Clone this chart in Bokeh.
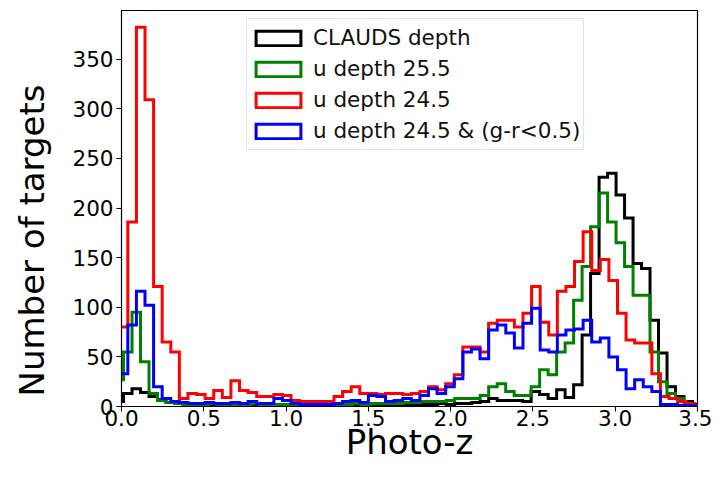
import math
import numpy as np
from bokeh.plotting import figure
from bokeh.models import FixedTicker, Range1d, Legend, LegendItem, ColumnDataSource, Label
from bokeh.embed import file_html
from bokeh.resources import INLINE

# ---- data ----
# red / blue histograms share one set of bins
RB_START = -0.0138
RB_WIDTH = 0.0522
red_counts = [80, 186, 382, 309, 121, 65, 55, 8, 13, 12, 8, 16, 9, 26, 16, 14, 10, 10, 12, 11,
              6, 5, 5, 5, 5, 10, 15, 20, 13, 13, 12, 13, 13, 12, 13, 15, 20, 17, 23, 32,
              60, 60, 55, 84, 87, 87, 80, 94, 121, 85, 72, 116, 121, 146, 176, 137, 148, 127, 94, 67,
              64, 64, 33, 10, 8, 5, 3, 1]
blue_counts = [33, 82, 116, 102, 20, 8, 5, 4, 3, 3, 4, 3, 3, 4, 3, 5, 3, 3, 8, 6,
               3, 2, 2, 2, 2, 3, 5, 6, 4, 11, 10, 5, 6, 8, 6, 11, 18, 13, 20, 28,
               55, 58, 48, 77, 82, 74, 59, 84, 99, 57, 55, 72, 77, 78, 87, 65, 69, 50, 37, 18,
               27, 20, 15, 2, 2, 1, 1, 0]
# black / green histograms share another set of bins
BG_START = -0.0392
BG_WIDTH = 0.0516
black_counts = [5, 13, 18, 14, 10, 7, 4, 3, 2,
                2, 1, 2, 1, 1, 2, 1, 1, 1, 2, 1, 1, 1, 1, 2, 1, 1, 2, 1, 2, 1, 2, 2, 1, 2, 2, 2,
                2, 2, 3, 2, 3, 3, 4, 5, 8, 6, 6, 6, 5, 15, 12, 8, 17, 9, 22, 72, 134,
                231, 235, 213, 190, 144, 139, 87, 54, 20, 10, 5, 2]
green_counts = [27, 55, 95, 45, 13, 6, 4, 3, 2,
                2, 2, 3, 2, 2, 2, 2, 3, 2, 2, 2, 2, 2, 2, 2, 2, 2, 2, 2, 3, 2, 3, 3, 3, 3,
                4, 4, 5, 5, 5, 6, 8, 8, 8, 11, 20, 23, 15, 11, 11, 20, 37, 32, 55, 64, 107,
                141, 181, 215, 186, 165, 141, 112, 112, 55, 25, 13, 8, 3, 1]

series_names = ["CLAUDS depth", "u depth 25.5", "u depth 24.5", "u depth 24.5 & (g-r<0.5)"]
series_colors = ["black", "#008000", "#ff0000", "#0000ff"]

X_TICKS = [0.0, 0.5, 1.0, 1.5, 2.0, 2.5, 3.0, 3.5]
X_TICK_LABELS = ["0.0", "0.5", "1.0", "1.5", "2.0", "2.5", "3.0", "3.5"]
Y_TICKS = [0, 50, 100, 150, 200, 250, 300, 350]
X_LABEL = "Photo-z"
Y_LABEL = "Number of targets"


def bin_edges(start, width, counts):
    return start + width * np.arange(len(counts) + 1)


def step_outline(edges, counts):
    counts = np.asarray(counts, dtype=float)
    xs = np.repeat(edges, 2)
    ys = np.concatenate([[0.0], np.repeat(counts, 2), [0.0]])
    return xs, ys


FONT = "DejaVu Sans"

p = figure(width=712, height=464, output_backend="svg", toolbar_location=None,
           x_range=Range1d(0, 3.5), y_range=Range1d(0, 399),
           min_border_left=121, min_border_right=15, min_border_top=10, min_border_bottom=58)

hists = [
    (BG_START, BG_WIDTH, black_counts),
    (BG_START, BG_WIDTH, green_counts),
    (RB_START, RB_WIDTH, red_counts),
    (RB_START, RB_WIDTH, blue_counts),
]
items = []
for (start, width, counts), name, color in zip(hists, series_names, series_colors):
    edges = bin_edges(start, width, counts)
    xs, ys = step_outline(edges, counts)
    p.line(xs, ys, line_color=color, line_width=3, line_join="miter")
    # hidden bar version of the same histogram: only used to draw the legend patch
    src = ColumnDataSource(dict(left=edges[:-1], right=edges[1:],
                                top=np.asarray(counts, dtype=float),
                                bottom=np.zeros(len(counts))))
    patch = p.quad(left="left", right="right", top="top", bottom="bottom", source=src,
                   fill_color="white", line_color=color, line_width=3, line_join="miter")
    patch.visible = False
    items.append(LegendItem(label=name, renderers=[patch]))

legend = Legend(items=items, location=(125, 256), click_policy="none",
                glyph_width=56, glyph_height=18, label_height=31, spacing=0,
                padding=3, margin=0, label_standoff=7,
                label_text_font=FONT, label_text_font_size="21.5px", label_text_color="#111111",
                border_line_color="#cccccc", border_line_width=1,
                background_fill_color="white", background_fill_alpha=0.8)
p.add_layout(legend, "center")

p.xgrid.visible = False
p.ygrid.visible = False
p.outline_line_color = "black"
p.outline_line_width = 1.2
p.outline_line_alpha = 1.0
p.background_fill_color = "white"
p.border_fill_color = "white"

p.xaxis.ticker = FixedTicker(ticks=X_TICKS)
p.xaxis.major_label_overrides = {t: s for t, s in zip(X_TICKS, X_TICK_LABELS)}
p.yaxis.ticker = FixedTicker(ticks=Y_TICKS)

for ax in (p.xaxis, p.yaxis):
    ax.axis_line_color = "black"
    ax.major_tick_line_color = "black"
    ax.major_tick_out = 5
    ax.major_tick_in = 0
    ax.minor_tick_line_color = None
    ax.major_label_text_font = FONT
    ax.major_label_text_font_size = "21.5px"
    ax.major_label_text_color = "black"
    ax.axis_label_text_font = FONT
    ax.axis_label_text_font_style = "normal"
    ax.axis_label_text_color = "black"

p.xaxis.major_label_standoff = -2
p.yaxis.major_label_standoff = 3
p.xaxis.axis_label = X_LABEL
p.xaxis.axis_label_text_font_size = "34px"
p.xaxis.axis_label_standoff = -7

# y title as a text annotation in the left border (screen units of that panel)
p.add_layout(Label(x=2, y=166, x_units="screen", y_units="screen", text=Y_LABEL,
                   angle=math.pi / 2, text_font=FONT, text_font_size="34px", text_color="black",
                   text_align="center", text_baseline="middle"), "left")

open("out.html", "w").write(file_html(p, INLINE))
